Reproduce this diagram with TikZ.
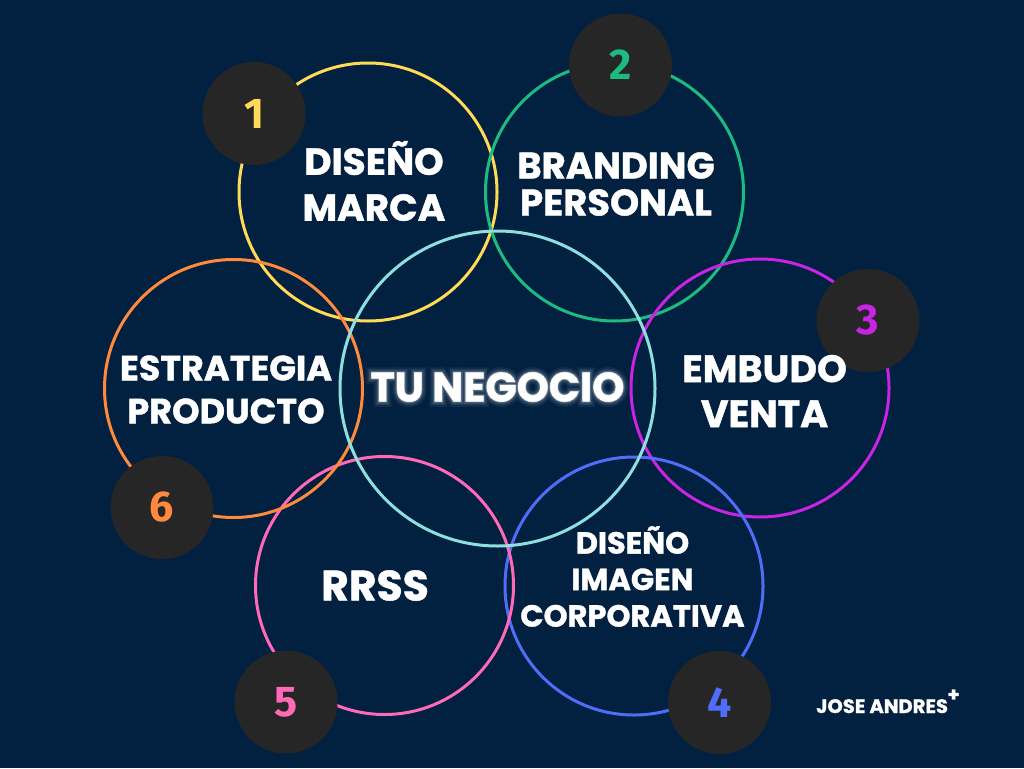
\documentclass[tikz,border=0pt]{standalone}
\usepackage{fontspec}
\newfontfamily\pop{Poppins}[BoldFeatures={FakeBold=1.2}]
\newfontfamily\popga{Poppins}[BoldFeatures={FakeBold=26}]
\newfontfamily\popgb{Poppins}[BoldFeatures={FakeBold=17}]
\newfontfamily\popgc{Poppins}[BoldFeatures={FakeBold=10}]
\newfontfamily\popgd{Poppins}[BoldFeatures={FakeBold=5}]
\newfontfamily\numf{Fira Sans}
\definecolor{bgc}{HTML}{022040}
\definecolor{badgec}{HTML}{262626}
\definecolor{cyel}{HTML}{FFD957}
\definecolor{cgrn}{HTML}{1DBA82}
\definecolor{cmag}{HTML}{C923E3}
\definecolor{cblu}{HTML}{4F6DF8}
\definecolor{cpnk}{HTML}{FF69B8}
\definecolor{corg}{HTML}{FF8A3D}
\definecolor{ccya}{HTML}{8EE0E0}
\tikzset{
  ring/.style={circle, draw, line width=3pt, minimum size=#1, inner sep=0pt},
  badge/.style={circle, fill=badgec, minimum size=103pt, inner sep=0pt,
    font=\numf\bfseries\fontsize{43}{43}\selectfont},
  lbl/.style={text=white, align=center, inner sep=0pt, font=\pop\bfseries},
  glowlayer/.style={opacity=#1, transparency group},
}
\begin{document}
\begin{tikzpicture}[x=1pt,y=-1pt]
\fill[bgc] (0,0) rectangle (1024,768);
\useasboundingbox (0,0) rectangle (1024,768);
% rings
\node[ring=258pt, draw=cyel] (r1) at (368,192) {};
\node[ring=258pt, draw=cgrn] (r2) at (614.5,192) {};
\node[ring=258pt, draw=cmag] (r3) at (760,388) {};
\node[ring=258pt, draw=cblu] (r4) at (634,586) {};
\node[ring=258pt, draw=cpnk] (r5) at (384.5,585.5) {};
\node[ring=258pt, draw=corg] (r6) at (233.5,388.5) {};
\node[ring=315pt, draw=ccya] (r0) at (497.5,388.5) {};
% badges
\node[badge, text=cyel] (b1) at (254,113.5) {1};
\node[badge, text=cgrn] (b2) at (620.5,65) {2};
\node[badge, text=cmag] (b3) at (868,320.5) {3};
\node[badge, text=cblu] (b4) at (719.5,702.5) {4};
\node[badge, text=cpnk] (b5) at (286,702) {5};
\node[badge, text=corg] (b6) at (162,507.5) {6};
% labels
\node[lbl, font=\pop\bfseries\fontsize{37.5}{46}\selectfont] (t1) at (374,181) {DISEÑO\\MARCA};
\node[lbl, font=\pop\bfseries\fontsize{37}{37}\selectfont] (t2) at (616,184) {BRANDING\\PERSONAL};
\node[lbl, font=\pop\bfseries\fontsize{38}{45}\selectfont] (t3) at (764.5,391) {EMBUDO\\VENTA};
\node[lbl, font=\pop\bfseries\fontsize{30.5}{36.5}\selectfont] (t4) at (632.5,576.5) {DISEÑO\\IMAGEN\\CORPORATIVA};
\node[lbl, font=\pop\bfseries\fontsize{42.5}{42.5}\selectfont] (t5) at (375,585.5) {RRSS};
\node[lbl, font=\pop\bfseries\fontsize{35}{43}\selectfont] (t6) at (226,389.5) {ESTRATEGIA\\PRODUCTO};
% glowing centre label
\begin{scope}[glowlayer=0.06]
\node[lbl, font=\popga\bfseries\fontsize{41}{41}\selectfont] (g1) at (497.5,387) {TU NEGOCIO};
\end{scope}
\begin{scope}[glowlayer=0.08]
\node[lbl, font=\popgb\bfseries\fontsize{41}{41}\selectfont] (g2) at (497.5,387) {TU NEGOCIO};
\end{scope}
\begin{scope}[glowlayer=0.12]
\node[lbl, font=\popgc\bfseries\fontsize{41}{41}\selectfont] (g3) at (497.5,387) {TU NEGOCIO};
\end{scope}
\begin{scope}[glowlayer=0.2]
\node[lbl, font=\popgd\bfseries\fontsize{41}{41}\selectfont] (g4) at (497.5,387) {TU NEGOCIO};
\end{scope}
\node[lbl, font=\pop\bfseries\fontsize{41}{41}\selectfont] (t0) at (497.5,387) {TU NEGOCIO};
% signature
\node[lbl, anchor=base west, font=\pop\fontsize{19.5}{19.5}\selectfont\bfseries] (sig) at (816,713) {JOSE ANDRES\hspace{-0.5pt}\raisebox{0.6em}{+}};
\end{tikzpicture}
\end{document}
